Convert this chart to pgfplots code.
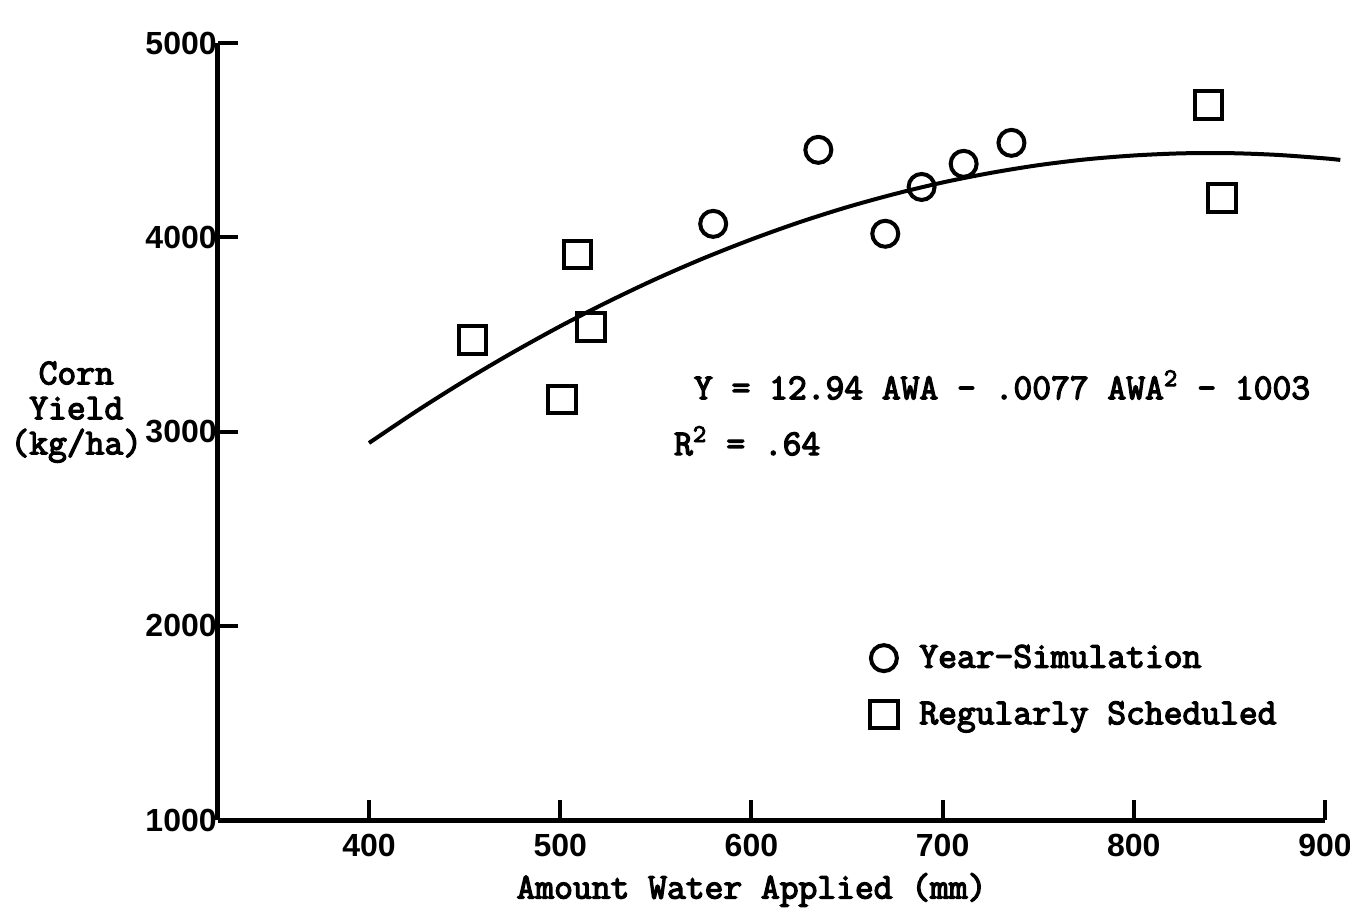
\documentclass[border=0pt]{standalone}
\usepackage{fontspec}
\setmainfont{Latin Modern Mono}[AutoFakeBold=3.6]
\newfontfamily\ticfont{Liberation Sans}
\usepackage{pgfplots}
\pgfplotsset{compat=1.18}
\begin{document}
\begin{tikzpicture}
\useasboundingbox (-87.2pt,-37.2pt) rectangle (452.8pt,328pt);
\begin{axis}[
  at={(0,0)}, anchor=south west,
  scale only axis, width=442.8pt, height=310.8pt,
  xmin=321, xmax=900, ymin=1000, ymax=5000,
  axis x line=bottom, axis y line=left,
  axis line style={-, line width=2pt},
  xtick={400,500,600,700,800,900}, ytick={1000,2000,3000,4000,5000},
  tick align=inside, major tick length=8pt,
  tick style={line width=1.6pt, black},
  ticklabel style={font=\ticfont\bfseries\fontsize{12.8}{14}\selectfont},
  xticklabel style={yshift=-2pt},
  yticklabel style={xshift=3pt},
  /pgf/number format/assume math mode=true,
  scaled ticks=false, /pgf/number format/set thousands separator={},
  clip=false,
  legend image code/.code={\path (0cm,0cm) (0.70cm,0cm);
    \draw[mark repeat=2,mark phase=2,#1] plot coordinates {(0cm,0cm)(0.3cm,0cm)(0.6cm,0cm)};},
  legend style={draw=none, fill=none, at={(rel axis cs:0.580,0.172)}, anchor=west,
    font=\bfseries\fontsize{14.6}{15}\selectfont, row sep=8pt, inner sep=0pt,
    cells={anchor=west}},
]
\addplot[only marks, mark=o, mark size=5.2pt, line width=1.6pt] coordinates {
 (580,4069) (635,4450) (670,4018) (689,4259) (711,4378) (736,4486)};
\addlegendentry{Year-Simulation}
\addplot[only marks, mark=square, mark size=5.5pt, line width=1.6pt] coordinates {
 (454,3472) (501,3164) (509,3910) (516,3539) (839,4681) (846,4203)};
\addlegendentry{Regularly Scheduled}
\addplot[smooth, line width=1.6pt, black, forget plot] coordinates {
 (400,2941) (425,3106) (450,3261) (475,3406) (500,3542) (525,3668) (550,3785)
 (575,3892) (600,3989) (625,4077) (650,4155) (675,4223) (700,4282) (725,4331)
 (750,4371) (775,4401) (800,4421) (825,4432) (850,4433) (875,4424) (900,4406) (908,4398)};
\node[anchor=west, font=\bfseries\fontsize{14.6}{15}\selectfont] at (rel axis cs:0.422,0.560) {Y = 12.94 AWA - .0077 AWA\textsuperscript{2} - 1003};
\node[anchor=west, font=\bfseries\fontsize{14.6}{15}\selectfont] at (rel axis cs:0.404,0.488) {R\textsuperscript{2} = .64};
\node[align=center, font=\bfseries\fontsize{14.6}{14}\selectfont] at (rel axis cs:-0.128,0.525) {Corn\\Yield\\(kg/ha)};
\node[font=\bfseries\fontsize{14.6}{15}\selectfont] at (rel axis cs:0.482,-0.090) {Amount Water Applied (mm)};
\end{axis}
\end{tikzpicture}
\end{document}
